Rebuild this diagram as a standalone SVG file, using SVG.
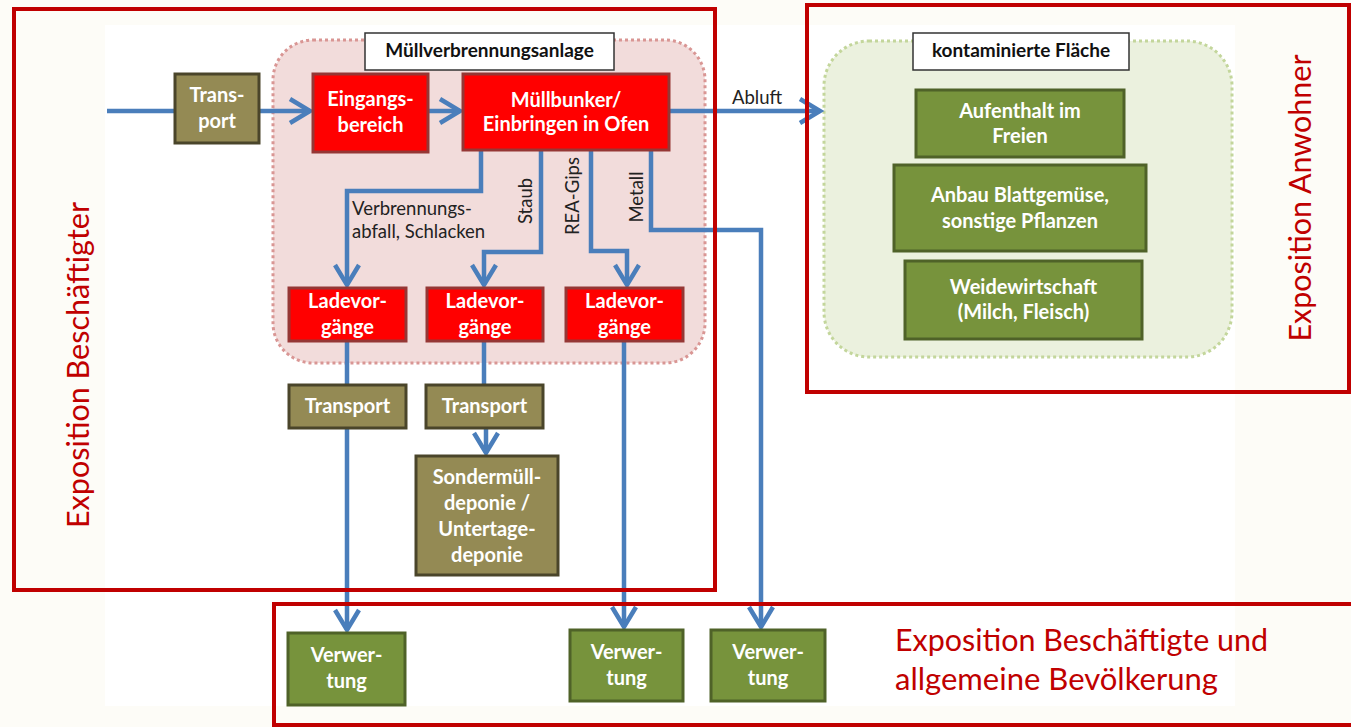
<svg xmlns="http://www.w3.org/2000/svg" width="1351" height="727" viewBox="0 0 1351 727">
  <style>
    .lbl { font-family: Lato, "Liberation Sans", sans-serif; font-size: 18.5px; fill: #222; }
    .bx { font-family: Lato, "Liberation Sans", sans-serif; font-size: 20px; font-weight: bold; fill: #fff; text-anchor: middle; }
    .ttl { font-family: Lato, "Liberation Sans", sans-serif; font-size: 19px; font-weight: bold; fill: #111; text-anchor: middle; }
    .big { font-family: Lato, "Liberation Sans", sans-serif; font-size: 30px; fill: #c00000; }
    .red { fill: #ff0000; stroke: #953735; stroke-width: 3; }
    .olive { fill: #948a54; stroke: #4a452a; stroke-width: 3; }
    .green { fill: #77933c; stroke: #4f6228; stroke-width: 3; }
    .tbox { fill: #fff; stroke: #333; stroke-width: 1.5; }
    .frame { fill: none; stroke: #c00000; stroke-width: 4; }
    .conn path { fill: none; stroke: #4a7ebb; stroke-width: 4.5; stroke-linejoin: miter; }
  </style>
  <defs>
    <marker id="arrow" viewBox="-3 -3 28 30" markerWidth="28" markerHeight="30" refX="20" refY="12" orient="auto" markerUnits="userSpaceOnUse">
      <path d="M0,0 L20,12 L0,24" fill="none" stroke="#4a7ebb" stroke-width="4.5"/>
    </marker>
  </defs>

  <!-- page and slide area -->
  <rect x="0" y="0" width="1351" height="727" fill="#fdfcf7"/>
  <rect x="105" y="25" width="1130" height="681" fill="#ffffff"/>

  <!-- plant enclosure -->
  <g id="muellverbrennungsanlage">
    <rect x="273" y="40" width="432" height="323" rx="40" fill="#f2dcdb" stroke="#d99694" stroke-width="3" stroke-dasharray="3 3"/>
    <rect class="tbox" x="365" y="33" width="249" height="37"/>
    <text class="ttl" x="489.5" y="57">Müllverbrennungsanlage</text>
  </g>

  <!-- contaminated area enclosure -->
  <g id="kontaminierte-flaeche">
    <rect x="824" y="41" width="408" height="316" rx="45" fill="#ebf1de" stroke="#c3d69b" stroke-width="3" stroke-dasharray="3 3"/>
    <rect class="tbox" x="913" y="33" width="216" height="37"/>
    <text class="ttl" x="1021" y="57">kontaminierte Fläche</text>
  </g>

  <!-- connectors -->
  <g id="connectors" class="conn">
    <path d="M107,111 H175"/>
    <path d="M259,111 H310" marker-end="url(#arrow)"/>
    <path d="M428,111 H460" marker-end="url(#arrow)"/>
    <path d="M669,111 H820" marker-end="url(#arrow)"/>
    <path d="M481,150 V191 H347 V285" marker-end="url(#arrow)"/>
    <path d="M541,150 V252 H484 V285" marker-end="url(#arrow)"/>
    <path d="M591,150 V251 H627 V285" marker-end="url(#arrow)"/>
    <path d="M651,150 V230 H761 V627" marker-end="url(#arrow)"/>
    <path d="M347,341 V385"/>
    <path d="M347,428 V630" marker-end="url(#arrow)"/>
    <path d="M484,341 V385"/>
    <path d="M486,428 V453" marker-end="url(#arrow)"/>
    <path d="M624,341 V627" marker-end="url(#arrow)"/>
  </g>

  <!-- connector labels -->
  <g id="connector-labels">
    <text class="lbl" x="732" y="104">Abluft</text>
    <text class="lbl" x="352" y="215">Verbrennungs-</text>
    <text class="lbl" x="352" y="238">abfall, Schlacken</text>
    <text class="lbl" text-anchor="middle" transform="translate(532,201) rotate(-90)">Staub</text>
    <text class="lbl" text-anchor="middle" transform="translate(579,196) rotate(-90)">REA-Gips</text>
    <text class="lbl" text-anchor="middle" transform="translate(643,197) rotate(-90)">Metall</text>
  </g>

  <g id="transport-in">
    <rect class="olive" x="175" y="74" width="84" height="69"/>
    <text class="bx" x="217" y="102">Trans-</text>
    <text class="bx" x="217" y="128">port</text>
  </g>
  <g id="eingangsbereich">
    <rect class="red" x="313" y="74" width="115" height="78"/>
    <text class="bx" x="370.5" y="106">Eingangs-</text>
    <text class="bx" x="370.5" y="132">bereich</text>
  </g>
  <g id="muellbunker">
    <rect class="red" x="463" y="74" width="206" height="76"/>
    <text class="bx" x="566" y="107">Müllbunker/</text>
    <text class="bx" x="566" y="131">Einbringen in Ofen</text>
  </g>

  <g id="ladevorgaenge-1">
    <rect class="red" x="289" y="288" width="117" height="53"/>
    <text class="bx" x="347.5" y="308">Ladevor-</text>
    <text class="bx" x="347.5" y="334">gänge</text>
  </g>
  <g id="ladevorgaenge-2">
    <rect class="red" x="427" y="288" width="116" height="53"/>
    <text class="bx" x="485" y="308">Ladevor-</text>
    <text class="bx" x="485" y="334">gänge</text>
  </g>
  <g id="ladevorgaenge-3">
    <rect class="red" x="566" y="288" width="117" height="53"/>
    <text class="bx" x="624.5" y="308">Ladevor-</text>
    <text class="bx" x="624.5" y="334">gänge</text>
  </g>

  <g id="transport-1">
    <rect class="olive" x="289" y="385" width="117" height="43"/>
    <text class="bx" x="347.5" y="413">Transport</text>
  </g>
  <g id="transport-2">
    <rect class="olive" x="426" y="385" width="117" height="43"/>
    <text class="bx" x="484.5" y="413">Transport</text>
  </g>
  <g id="sondermuelldeponie">
    <rect class="olive" x="416" y="456" width="142" height="119"/>
    <text class="bx" x="487" y="484">Sondermüll-</text>
    <text class="bx" x="487" y="510">deponie /</text>
    <text class="bx" x="487" y="536">Untertage-</text>
    <text class="bx" x="487" y="562">deponie</text>
  </g>

  <g id="verwertung-1">
    <rect class="green" x="288" y="633" width="117" height="72"/>
    <text class="bx" x="346.5" y="662">Verwer-</text>
    <text class="bx" x="346.5" y="688">tung</text>
  </g>
  <g id="verwertung-2">
    <rect class="green" x="570" y="630" width="113" height="71"/>
    <text class="bx" x="626.5" y="659">Verwer-</text>
    <text class="bx" x="626.5" y="685">tung</text>
  </g>
  <g id="verwertung-3">
    <rect class="green" x="711" y="630" width="114" height="71"/>
    <text class="bx" x="768" y="659">Verwer-</text>
    <text class="bx" x="768" y="685">tung</text>
  </g>

  <g id="aufenthalt">
    <rect class="green" x="916" y="90" width="208" height="67"/>
    <text class="bx" x="1020" y="118">Aufenthalt im</text>
    <text class="bx" x="1020" y="143">Freien</text>
  </g>
  <g id="anbau">
    <rect class="green" x="894" y="165" width="252" height="86"/>
    <text class="bx" x="1020" y="202">Anbau Blattgemüse,</text>
    <text class="bx" x="1020" y="228">sonstige Pflanzen</text>
  </g>
  <g id="weidewirtschaft">
    <rect class="green" x="905" y="261" width="237" height="78"/>
    <text class="bx" x="1023.5" y="294">Weidewirtschaft</text>
    <text class="bx" x="1023.5" y="319">(Milch, Fleisch)</text>
  </g>

  <!-- exposure zones -->
  <g id="zone-beschaeftigte">
    <rect class="frame" x="14" y="9" width="701" height="581"/>
    <text class="big" text-anchor="middle" transform="translate(89,365) rotate(-90)" textLength="326" lengthAdjust="spacingAndGlyphs">Exposition Beschäftigter</text>
  </g>
  <g id="zone-anwohner">
    <rect class="frame" x="807" y="5" width="542" height="387"/>
    <text class="big" text-anchor="middle" transform="translate(1311,198) rotate(-90)" textLength="287" lengthAdjust="spacingAndGlyphs">Exposition Anwohner</text>
  </g>
  <g id="zone-bevoelkerung">
    <rect class="frame" x="274" y="604" width="1080" height="121"/>
    <text class="big" x="895" y="651" textLength="373" lengthAdjust="spacingAndGlyphs">Exposition Beschäftigte und</text>
    <text class="big" x="895" y="690" textLength="323" lengthAdjust="spacingAndGlyphs">allgemeine Bevölkerung</text>
  </g>
</svg>
